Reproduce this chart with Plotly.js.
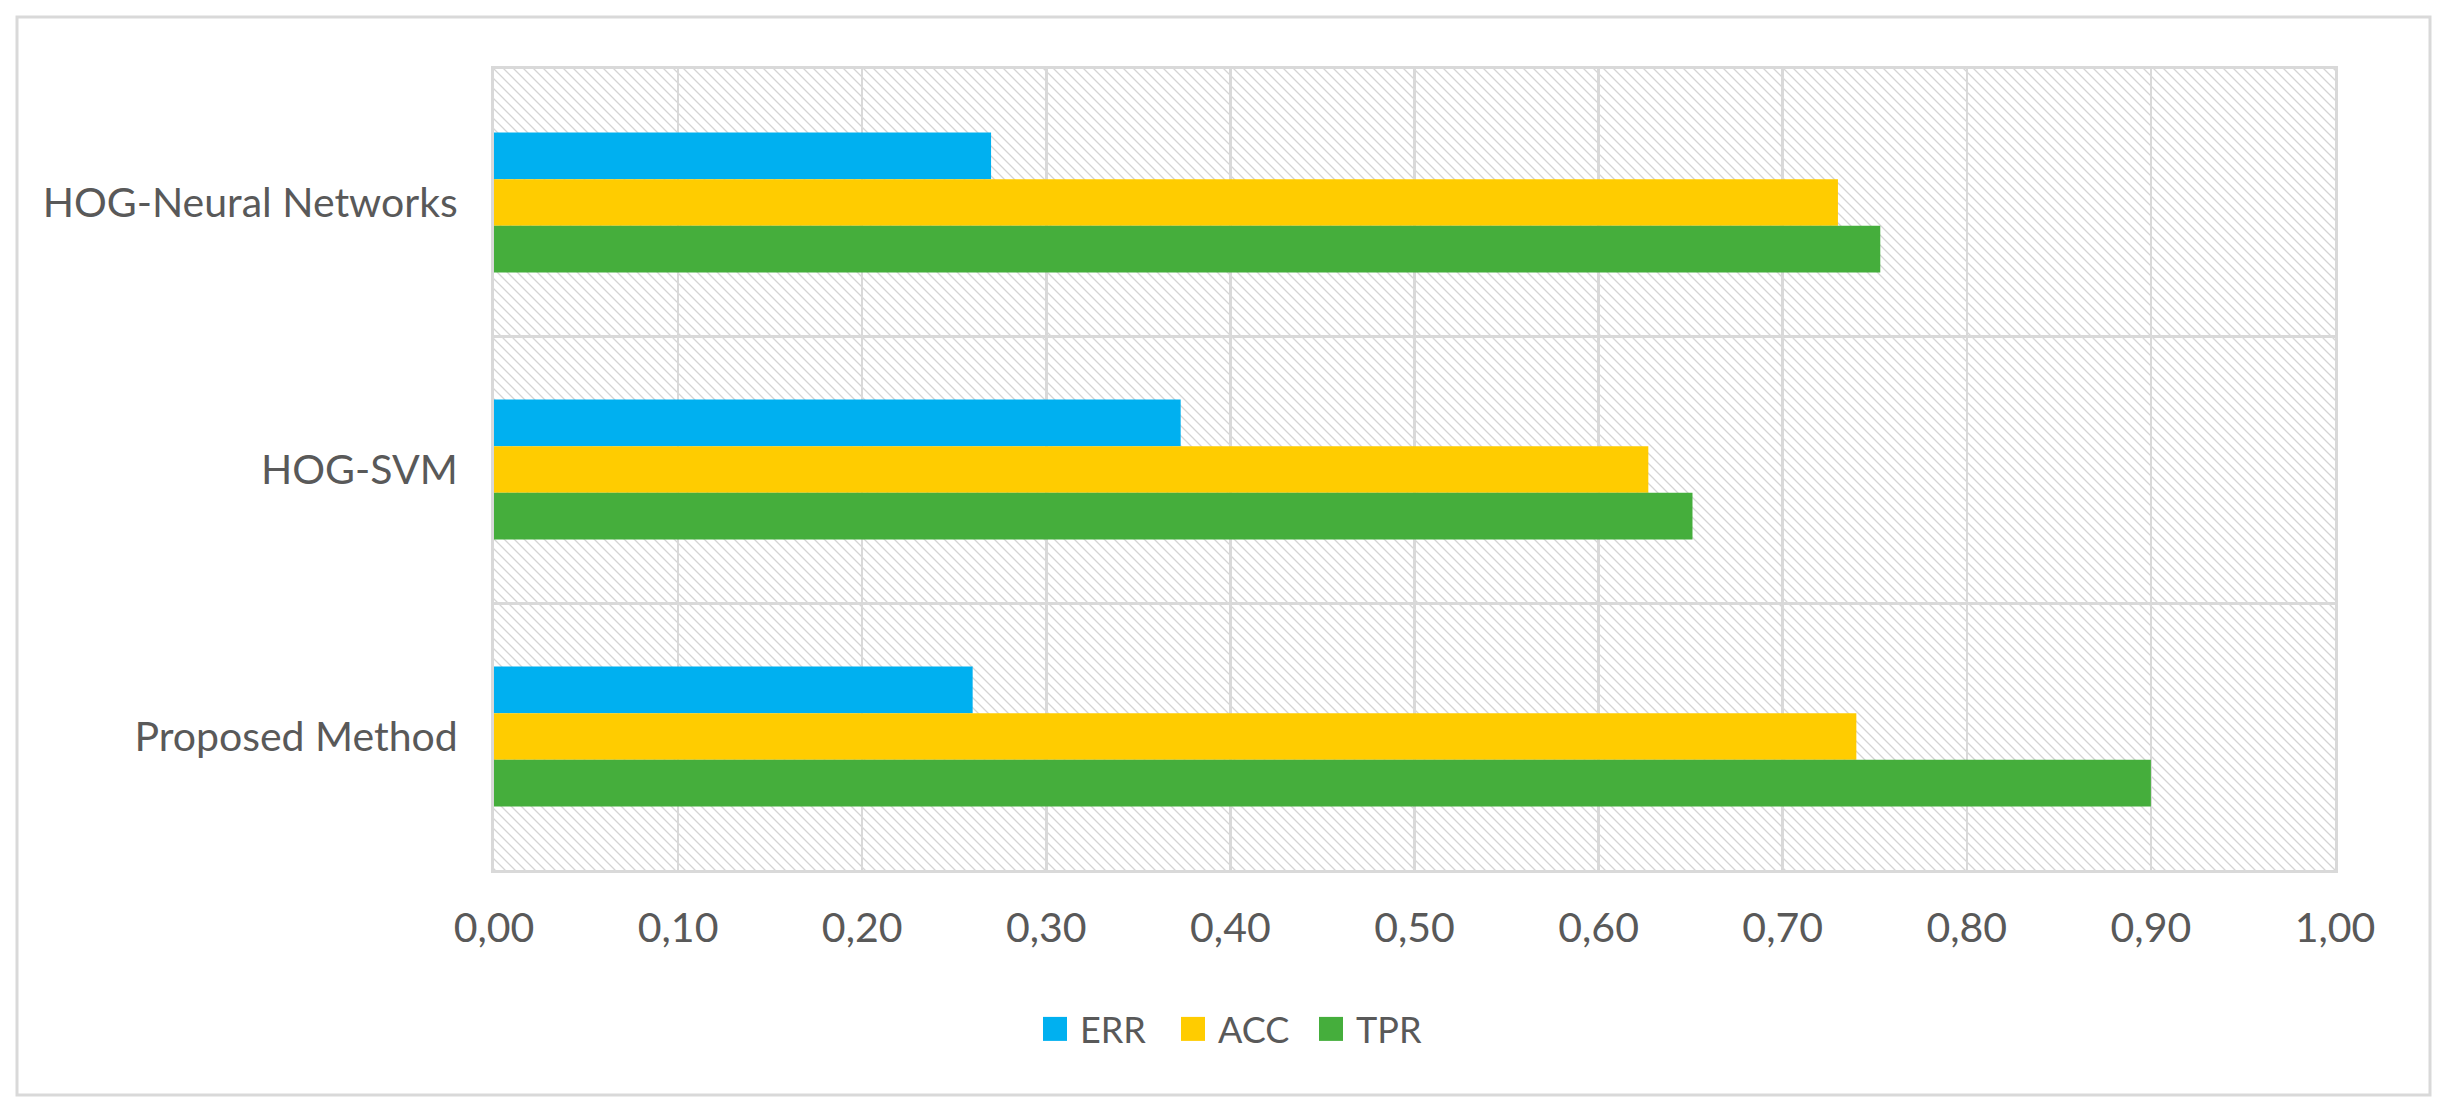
<!DOCTYPE html>
<html>
<head>
<meta charset="utf-8">
<script src="https://cdn.plot.ly/plotly-3.0.1.min.js"></script>
<style>
html,body{margin:0;padding:0;background:#fff;}
#chart{width:2448px;height:1117px;}
</style>
</head>
<body>
<div id="chart"></div>
<script>
// ---- data ----
const categories = ["HOG-Neural Networks", "HOG-SVM", "Proposed Method"];
const seriesNames = ["ERR", "ACC", "TPR"];
const errValues = [0.27, 0.373, 0.26];
const accValues = [0.73, 0.627, 0.74];
const tprValues = [0.753, 0.651, 0.90];
const xTickValues = [0, 0.1, 0.2, 0.3, 0.4, 0.5, 0.6, 0.7, 0.8, 0.9, 1.0];

// ---- style ----
const W = 2448, H = 1117;
const M = {l: 494, r: W - 2335, t: 69, b: H - 870};
const plotW = W - M.l - M.r, plotH = H - M.t - M.b;
const colors = ["#00B0F0", "#FFCC00", "#45AE3C"];
const textColor = "#595959";
const gridColor = "#d9d9d9";
const fontFamily = "Lato, 'Open Sans', sans-serif";

// hatch background (plot area)
const svg = '<svg xmlns="http://www.w3.org/2000/svg" width="' + plotW + '" height="' + plotH + '" viewBox="0 0 ' + plotW + ' ' + plotH + '" preserveAspectRatio="none">' +
  '<defs><pattern id="h" patternUnits="userSpaceOnUse" width="10" height="10">' +
  '<path d="M-1,-1 L11,11 M-1,9 L1,11 M9,-1 L11,1" stroke="#d4d4d4" stroke-width="1.3"/>' +
  '</pattern></defs><rect width="100%" height="100%" fill="#fff"/><rect width="100%" height="100%" fill="url(#h)"/></svg>';
const hatchSrc = "data:image/svg+xml;charset=utf-8," + encodeURIComponent(svg);

const values = [errValues, accValues, tprValues];
const traces = seriesNames.map((name, i) => ({
  type: "bar",
  orientation: "h",
  name: name,
  x: values[i],
  y: categories,
  marker: {color: colors[i], line: {width: 0}},
  hoverinfo: "x+name"
}));

// outer chart frame in paper coords
const px2x = p => (p - M.l) / plotW;
const py2y = p => (H - M.b - p) / plotH;

const layout = {
  width: W, height: H,
  margin: M,
  paper_bgcolor: "#ffffff",
  plot_bgcolor: "rgba(0,0,0,0)",
  separators: ", ",
  barmode: "group",
  bargap: 0.475,
  bargroupgap: 0,
  font: {family: fontFamily, size: 41, color: textColor},
  showlegend: true,
  legend: {
    orientation: "h",
    x: px2x(1247), xanchor: "center",
    y: py2y(1029), yanchor: "middle",
    font: {family: fontFamily, size: 36, color: textColor},
    entrywidth: 93, entrywidthmode: "pixels",
    bgcolor: "rgba(0,0,0,0)"
  },
  xaxis: {
    range: [0, 1],
    tickvals: xTickValues,
    tickformat: ".2f",
    showgrid: true, gridcolor: gridColor, gridwidth: 2.5,
    zeroline: false,
    showline: true, mirror: true, linecolor: gridColor, linewidth: 3,
    ticks: "",
    ticklabelstandoff: 20,
    tickfont: {family: fontFamily, size: 41, color: textColor},
    fixedrange: true
  },
  yaxis: {
    type: "category",
    categoryorder: "array",
    categoryarray: categories,
    autorange: "reversed",
    tickson: "boundaries",
    showgrid: true, gridcolor: gridColor, gridwidth: 3,
    zeroline: false,
    showline: true, mirror: true, linecolor: gridColor, linewidth: 3,
    ticks: "",
    ticklabelstandoff: 25,
    tickfont: {family: fontFamily, size: 41, color: textColor},
    fixedrange: true
  },
  images: [{
    source: hatchSrc,
    xref: "paper", yref: "paper",
    x: 0, y: 1, sizex: 1, sizey: 1,
    xanchor: "left", yanchor: "top",
    sizing: "stretch", layer: "below"
  }],
  shapes: [{
    type: "rect", xref: "paper", yref: "paper",
    x0: px2x(17), x1: px2x(2430), y0: py2y(17), y1: py2y(1095),
    line: {color: gridColor, width: 3}, fillcolor: "rgba(0,0,0,0)", layer: "below"
  }]
};

function fixLegend() {
  document.querySelectorAll(".legend .scrollbox, .legend").forEach(s => s.removeAttribute("clip-path"));
  document.querySelectorAll(".legendpoints path").forEach(p => {
    p.removeAttribute("transform");
    p.setAttribute("d", "M27,12H3V-12H27Z");
  });
}

Plotly.newPlot("chart", traces, layout, {displayModeBar: false, staticPlot: true}).then(() => {
  fixLegend();
  setTimeout(fixLegend, 50);
});
</script>
</body>
</html>
